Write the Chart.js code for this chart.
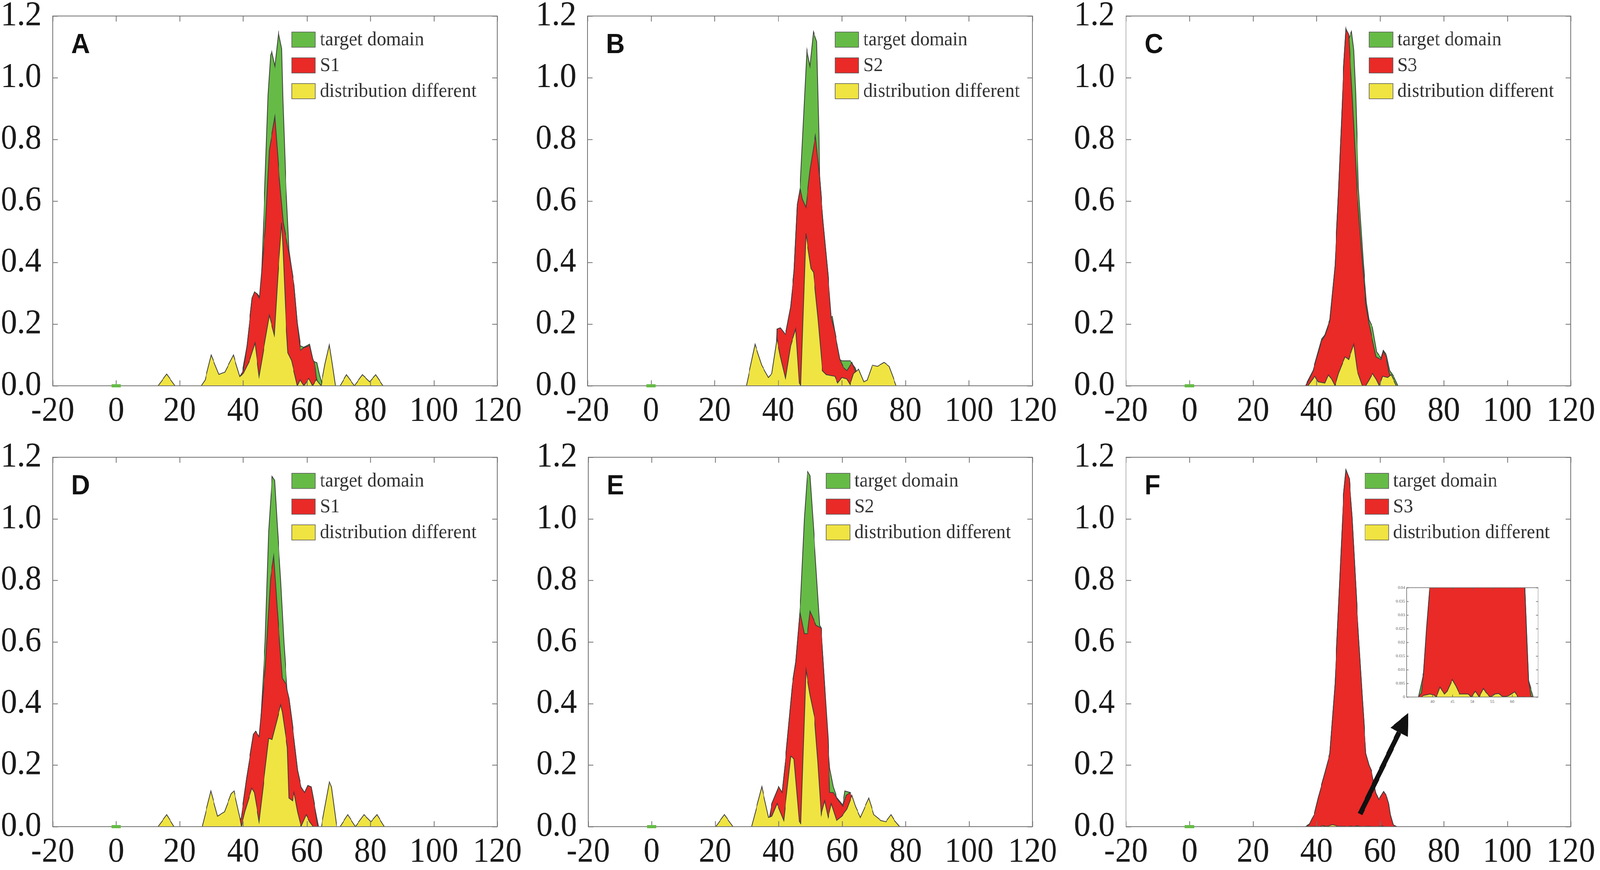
<!DOCTYPE html>
<html>
<head>
<meta charset="utf-8">
<title>Target domain vs source distributions</title>
<script src="https://cdn.jsdelivr.net/npm/chart.js@4.4.1/dist/chart.umd.min.js"></script>
<style>
  html, body { margin: 0; padding: 0; background: #fff; overflow: hidden; }
  #page { position: relative; width: 4317px; height: 2228px; overflow: hidden; background: #fff; transform-origin: 0 0; }
  canvas { position: absolute; }
</style>
</head>
<body>
<div id="page">
  <canvas id="panelA"></canvas>
  <canvas id="panelB"></canvas>
  <canvas id="panelC"></canvas>
  <canvas id="panelD"></canvas>
  <canvas id="panelE"></canvas>
  <canvas id="panelF"></canvas>
  <canvas id="insetF"></canvas>
</div>
<script>
// Series colours
const GREEN = '#66bb46';
const RED = '#e92a27';
const YELLOW = '#f0e442';
const EDGE = '#3c3c3c';

// Small green mark of the target domain sitting on the axis near x = 0
const zeroMark = [[-1.5, 0], [1.5, 0]];

// Panel A (S1)
const aTarget = [[37.5, 0], [39.5, 0.03], [41.2, 0.13], [42.8, 0.285], [44.3, 0.3], [45.5, 0.285], [46.65, 0.6], [47.8, 0.943], [48.6, 1.073], [49.0, 1.085], [49.97, 1.037], [51.1, 1.146], [52.1, 1.094], [52.5, 0.927], [53.3, 0.683], [54.05, 0.52], [54.4, 0.44], [55.2, 0.38], [56.0, 0.326], [57.0, 0.205], [58.0, 0.13], [59.0, 0.125], [60.9, 0.135], [62.0, 0.08], [63.2, 0.075], [64.0, 0.035], [65.0, 0]];
const aS1 = [[38.1, 0], [38.6, 0.025], [40.05, 0.05], [41.2, 0.131], [42.8, 0.285], [43.55, 0.305], [44.3, 0.298], [45.1, 0.285], [47.0, 0.52], [48.2, 0.765], [49.96, 0.874], [51.3, 0.683], [52.6, 0.53], [54.4, 0.43], [55.2, 0.38], [56.0, 0.326], [57.0, 0.204], [58.0, 0.115], [59.0, 0.123], [60.9, 0.131], [61.8, 0.09], [62.6, 0.066], [63.0, 0.03], [63.6, 0]];
const aDiff = [[13.2, 0], [15.9, 0.038], [18.5, 0], [26.8, 0], [28.0, 0.019], [29.9, 0.1], [32.3, 0.037], [34.2, 0.044], [36.9, 0.1], [38.9, 0.03], [40.05, 0.04], [42.0, 0.082], [43.7, 0.139], [45.0, 0.03], [48.2, 0.229], [49.8, 0.164], [50.9, 0.358], [52.1, 0.529], [52.5, 0.45], [53.5, 0.2], [54.05, 0.107], [55.2, 0.082], [57.0, 0], [57.9, 0.02], [59.1, 0], [60.65, 0.024], [61.8, 0], [63.0, 0.02], [64.5, 0], [65.7, 0.07], [67.1, 0.136], [68.05, 0.07], [69.0, 0], [70.5, 0], [72.5, 0.036], [75.0, 0], [77.5, 0.036], [79.8, 0.013], [81.7, 0.036], [84.0, 0]];

// Panel B (S2)
const bTarget = [[38.5, 0], [39.3, 0.1], [39.6, 0.184], [40.7, 0.188], [42.3, 0.166], [43.9, 0.256], [45.0, 0.372], [46.0, 0.588], [46.9, 0.642], [49.0, 1.09], [50.0, 1.037], [51.07, 1.149], [52.1, 1.117], [52.8, 0.82], [53.0, 0.678], [54.1, 0.534], [55.7, 0.354], [56.5, 0.22], [57.0, 0.225], [57.8, 0.175], [59.4, 0.085], [60.0, 0.081], [62.6, 0.081], [64.2, 0.058], [65.3, 0.022], [66.0, 0]];
const bS2 = [[39.3, 0], [39.6, 0.184], [40.7, 0.188], [42.3, 0.166], [43.9, 0.256], [45.0, 0.372], [46.0, 0.588], [46.9, 0.642], [47.6, 0.606], [48.7, 0.579], [50.0, 0.7], [51.7, 0.812], [53.0, 0.678], [54.1, 0.534], [55.7, 0.354], [56.7, 0.22], [57.8, 0.175], [59.4, 0.085], [60.5, 0.06], [61.6, 0.049], [63.2, 0.076], [64.2, 0.049], [65.0, 0]];
const bDiff = [[30.0, 0], [32.7, 0.135], [34.8, 0.067], [36.9, 0.027], [38.0, 0.04], [39.6, 0.153], [40.7, 0.094], [42.3, 0.022], [43.9, 0.13], [45.5, 0.184], [46.6, 0.009], [47.1, 0], [48.7, 0.494], [50.3, 0.381], [51.1, 0.368], [52.5, 0.22], [53.9, 0.049], [55.1, 0.036], [57.8, 0.031], [58.7, 0.009], [60.0, 0.027], [61.6, 0.022], [62.6, 0.004], [63.7, 0.04], [65.3, 0.054], [66.9, 0.013], [68.0, 0.018], [69.6, 0.067], [71.2, 0.063], [73.3, 0.076], [74.9, 0.063], [77.1, 0]];

// Panel C (S3)
const cTarget = [[36.5, 0], [38.9, 0.05], [41.5, 0.15], [42.6, 0.165], [44.2, 0.215], [45.8, 0.39], [46.9, 0.63], [47.8, 0.85], [48.5, 1.03], [49.25, 1.158], [49.9, 1.12], [51.0, 1.15], [51.7, 1.09], [52.3, 0.95], [53.2, 0.64], [54.7, 0.4], [55.7, 0.27], [56.5, 0.215], [57.6, 0.19], [58.9, 0.11], [60.3, 0.09], [61.0, 0.115], [62.0, 0.1], [63.0, 0.05], [64.3, 0.03], [65.6, 0]];
const cS3 = [[36.7, 0], [38.9, 0.049], [41.5, 0.144], [42.6, 0.162], [44.2, 0.211], [45.8, 0.39], [46.9, 0.624], [47.8, 0.848], [48.5, 1.028], [49.25, 1.158], [50.1, 1.14], [51.2, 0.947], [52.8, 0.624], [54.4, 0.4], [55.5, 0.265], [56.5, 0.202], [57.6, 0.148], [58.7, 0.094], [60.3, 0.085], [61.0, 0.112], [61.9, 0.094], [62.7, 0.049], [64.0, 0.004], [65.1, 0]];
const cDiff = [[37.3, 0], [39.4, 0.031], [40.5, 0.013], [42.6, 0.009], [43.7, 0.036], [44.75, 0.022], [45.8, 0], [46.9, 0.04], [47.9, 0.067], [49.0, 0.094], [50.1, 0.085], [51.7, 0.135], [52.8, 0.049], [54.4, 0], [55.5, 0], [56.5, 0.018], [57.6, 0.04], [58.7, 0.022], [59.7, 0], [60.8, 0.031], [62.4, 0.027], [63.5, 0.036], [65.1, 0]];

// Panel D (S1)
const dTarget = [[38.0, 0], [39.4, 0.03], [41.05, 0.156], [43.2, 0.3], [43.9, 0.31], [45.0, 0.292], [45.3, 0.302], [46.9, 0.6], [48.0, 0.96], [49.1, 1.138], [49.9, 1.125], [50.7, 0.98], [51.8, 0.8], [52.8, 0.6], [53.9, 0.43], [54.4, 0.418], [55.5, 0.328], [57.1, 0.183], [58.2, 0.129], [59.3, 0.111], [60.3, 0.134], [61.4, 0.129], [62.5, 0.066], [63.7, 0]];
const dS1 = [[38.4, 0], [39.4, 0.03], [41.05, 0.156], [43.2, 0.3], [43.9, 0.31], [45.0, 0.292], [46.9, 0.51], [48.6, 0.807], [49.6, 0.879], [50.7, 0.707], [52.3, 0.482], [53.4, 0.464], [54.4, 0.418], [55.5, 0.328], [57.1, 0.183], [58.2, 0.129], [59.3, 0.111], [60.3, 0.134], [61.4, 0.129], [62.5, 0.066], [63.5, 0]];
const dDiff = [[13.2, 0], [15.9, 0.039], [18.2, 0], [27.1, 0], [29.8, 0.116], [31.9, 0.034], [34.1, 0.048], [36.2, 0.107], [37.1, 0.116], [38.9, 0.03], [39.4, 0], [40.5, 0.048], [42.7, 0.125], [43.5, 0.111], [45.0, 0.016], [48.0, 0.287], [49.1, 0.283], [51.8, 0.396], [52.3, 0.373], [53.9, 0.256], [54.4, 0.093], [55.5, 0.084], [56.0, 0.111], [57.1, 0.048], [58.2, 0], [59.8, 0.039], [60.9, 0.016], [62.0, 0], [64.6, 0], [67.1, 0.147], [67.8, 0.129], [69.4, 0], [70.5, 0], [72.9, 0.039], [75.3, 0], [78.0, 0.039], [80.2, 0.016], [82.1, 0.039], [84.4, 0]];

// Panel E (S2)
const eTarget = [[36.5, 0], [37.9, 0.075], [40.0, 0.13], [41.1, 0.111], [42.2, 0.22], [44.3, 0.46], [45.4, 0.535], [46.7, 0.7], [47.0, 0.75], [48.1, 1.0], [49.1, 1.155], [49.9, 1.14], [51.3, 0.92], [52.9, 0.654], [53.4, 0.645], [54.5, 0.46], [55.3, 0.3], [56.1, 0.19], [57.2, 0.13], [58.3, 0.095], [60.2, 0.07], [60.9, 0.116], [62.5, 0.111], [63.6, 0.075], [64.7, 0]];
const eS2 = [[36.8, 0], [37.9, 0.075], [40.0, 0.13], [41.1, 0.111], [42.2, 0.22], [44.3, 0.46], [45.4, 0.535], [46.7, 0.7], [48.1, 0.627], [49.1, 0.627], [49.9, 0.7], [51.8, 0.654], [53.4, 0.645], [54.5, 0.46], [55.6, 0.283], [56.1, 0.111], [57.2, 0.111], [58.3, 0.093], [60.2, 0.066], [61.3, 0.102], [62.5, 0.111], [63.6, 0.075], [64.7, 0]];
const eDiff = [[20.2, 0], [22.9, 0.039], [25.6, 0], [31.5, 0], [34.7, 0.13], [36.8, 0.03], [37.9, 0.034], [39.5, 0.075], [41.6, 0.02], [43.8, 0.229], [44.85, 0.22], [46.5, 0.016], [47.0, 0.01], [48.6, 0.509], [49.9, 0.427], [51.3, 0.355], [52.35, 0.21], [53.4, 0.039], [54.5, 0.084], [55.6, 0.03], [56.6, 0.075], [58.25, 0.02], [59.9, 0.034], [61.5, 0.057], [63.1, 0.102], [64.2, 0.066], [65.75, 0.03], [68.4, 0.093], [70.0, 0.039], [72.2, 0.02], [73.8, 0.016], [75.4, 0.039], [76.5, 0.02], [78.1, 0]];

// Panel F (S3) - also shown magnified in the inset
const fTarget = [[36.5, 0], [37.8, 0.009], [39.3, 0.04], [40.5, 0.093], [42.6, 0.174], [44.2, 0.238], [45.8, 0.464], [47.4, 0.825], [48.5, 1.078], [49.25, 1.159], [50.3, 1.13], [51.2, 1.006], [52.8, 0.69], [54.4, 0.418], [55.5, 0.238], [56.5, 0.2], [57.2, 0.183], [58.6, 0.11], [59.6, 0.088], [61.1, 0.114], [62.0, 0.1], [62.7, 0.075], [63.2, 0.04], [64.1, 0.006], [65.3, 0]];
const fS3 = [[36.5, 0], [37.2, 0.0015], [37.8, 0.009], [38.5, 0.025], [39.3, 0.04], [40.5, 0.093], [42.6, 0.174], [44.2, 0.238], [45.8, 0.464], [47.4, 0.825], [48.5, 1.078], [49.25, 1.159], [50.3, 1.13], [51.2, 1.006], [52.8, 0.69], [54.4, 0.418], [55.5, 0.238], [56.5, 0.2], [57.2, 0.183], [58.6, 0.11], [59.6, 0.088], [61.1, 0.114], [62.0, 0.1], [62.7, 0.075], [63.2, 0.04], [63.7, 0.02], [64.1, 0.006], [64.7, 0.0003], [65.3, 0]];
const fDiff = [[37.3, 0], [37.6, 0.0005], [38.2, 0.0007], [39.4, 0.0011], [40.4, 0.0007], [41.0, 0], [41.9, 0.0036], [43.0, 0.001], [43.7, 0.0021], [45.0, 0.0064], [45.9, 0.004], [46.8, 0.0011], [49.0, 0.0011], [49.7, 0], [50.8, 0.0021], [51.7, 0], [52.8, 0.0031], [53.4, 0.0017], [54.5, 0], [55.7, 0.0011], [56.6, 0.0013], [57.5, 0.0002], [58.5, 0.0002], [59.4, 0.0007], [60.6, 0.0019], [61.5, 0], [63.5, 0]];

// Axis ranges
const X_MIN = -20, X_MAX = 120, X_STEP = 20;
const Y_MIN = 0, Y_MAX = 1.2, Y_STEP = 0.2;

// Panel placement on the page (canvas box + plot box, in page pixels)
const panels = [
  { id: 'panelA', letter: 'A', source: 'S1', target: aTarget, src: aS1, diff: aDiff, left: 0, top: 0, width: 1440, height: 1110, plotLeft: 142, plotRight: 1342, plotTop: 41, plotBottom: 988, legendX: 645 },
  { id: 'panelB', letter: 'B', source: 'S2', target: bTarget, src: bS2, diff: bDiff, left: 1440, top: 0, width: 1440, height: 1110, plotLeft: 1585, plotRight: 2786, plotTop: 41, plotBottom: 988, legendX: 668 },
  { id: 'panelC', letter: 'C', source: 'S3', target: cTarget, src: cS3, diff: cDiff, left: 2880, top: 0, width: 1437, height: 1110, plotLeft: 3038, plotRight: 4238, plotTop: 41, plotBottom: 988, legendX: 656 },
  { id: 'panelD', letter: 'D', source: 'S1', target: dTarget, src: dS1, diff: dDiff, left: 0, top: 1110, width: 1440, height: 1118, plotLeft: 142, plotRight: 1342, plotTop: 1171, plotBottom: 2117, legendX: 645 },
  { id: 'panelE', letter: 'E', source: 'S2', target: eTarget, src: eS2, diff: eDiff, left: 1440, top: 1110, width: 1440, height: 1118, plotLeft: 1587, plotRight: 2786, plotTop: 1171, plotBottom: 2117, legendX: 642 },
  { id: 'panelF', letter: 'F', source: 'S3', target: fTarget, src: fS3, diff: fDiff, left: 2880, top: 1110, width: 1437, height: 1118, plotLeft: 3038, plotRight: 4238, plotTop: 1171, plotBottom: 2117, legendX: 645,
    arrow: { from: [53.7, 0.041], to: [68.9, 0.37] } }
];

// Stretch the 4317 x 2228 page over whatever viewport we actually get
function fitPage() {
    const page = document.getElementById('page');
    const sx = window.innerWidth / 4317;
    const sy = window.innerHeight / 2228;
    page.style.transform = 'scale(' + sx + ', ' + sy + ')';
}
fitPage();
window.addEventListener('resize', fitPage);

Chart.defaults.font.family = '"Liberation Serif", "Times New Roman", serif';
Chart.defaults.color = '#1a1a1a';

function area(data, color, order) {
    return {
        data: data,
        backgroundColor: color,
        borderColor: EDGE,
        borderWidth: 2,
        fill: 'origin',
        pointRadius: 0,
        pointHoverRadius: 0,
        tension: 0,
        order: order
    };
}

// Box frame with inward ticks on all four sides
const framePlugin = {
    id: 'frame',
    afterDatasetsDraw(chart, args, opts) {
        const { ctx, chartArea: a, scales } = chart;
        const len = opts.tickLength || 14;
        ctx.save();
        ctx.strokeStyle = opts.color || '#707070';
        ctx.lineWidth = opts.lineWidth || 2;
        ctx.beginPath();
        scales.x.ticks.forEach(t => {
            const px = Math.round(scales.x.getPixelForValue(t.value)) + 0.5;
            ctx.moveTo(px, a.bottom); ctx.lineTo(px, a.bottom - len);
            ctx.moveTo(px, a.top); ctx.lineTo(px, a.top + len);
        });
        scales.y.ticks.forEach(t => {
            const py = Math.round(scales.y.getPixelForValue(t.value)) + 0.5;
            ctx.moveTo(a.left, py); ctx.lineTo(a.left + len, py);
            ctx.moveTo(a.right, py); ctx.lineTo(a.right - len, py);
        });
        ctx.stroke();
        ctx.strokeRect(a.left, a.top, a.right - a.left, a.bottom - a.top);

        // the green target-domain mark near zero sits on top of the axis line
        if (opts.mark) {
            ctx.strokeStyle = GREEN;
            ctx.lineWidth = 8;
            ctx.beginPath();
            ctx.moveTo(scales.x.getPixelForValue(opts.mark[0][0]), scales.y.getPixelForValue(opts.mark[0][1]));
            ctx.lineTo(scales.x.getPixelForValue(opts.mark[1][0]), scales.y.getPixelForValue(opts.mark[1][1]));
            ctx.stroke();
        }
        ctx.restore();
    }
};

// Panel letter, legend and the pointer arrow of panel F
const decoPlugin = {
    id: 'deco',
    afterDraw(chart, args, opts) {
        if (!opts.letter) return;
        const { ctx, chartArea: a, scales } = chart;
        ctx.save();

        ctx.fillStyle = '#111';
        ctx.font = 'bold 70px "Liberation Sans", Arial, sans-serif';
        ctx.textAlign = 'left';
        ctx.textBaseline = 'alphabetic';
        ctx.fillText(opts.letter, a.left + 50, a.top + 95);

        const items = [['target domain', GREEN], [opts.source, RED], ['distribution different', YELLOW]];
        const sx = a.left + opts.legendX;
        ctx.font = '51px "Liberation Serif", "Times New Roman", serif';
        ctx.textBaseline = 'middle';
        items.forEach((it, i) => {
            const top = a.top + 41 + i * 66;
            ctx.fillStyle = it[1];
            ctx.fillRect(sx, top, 64, 39);
            ctx.strokeStyle = '#555';
            ctx.lineWidth = 1.5;
            ctx.strokeRect(sx, top, 64, 39);
            ctx.fillStyle = '#333';
            ctx.fillText(it[0], sx + 76, top + 21);
        });

        if (opts.arrow) {
            const x0 = scales.x.getPixelForValue(opts.arrow.from[0]);
            const y0 = scales.y.getPixelForValue(opts.arrow.from[1]);
            const x1 = scales.x.getPixelForValue(opts.arrow.to[0]);
            const y1 = scales.y.getPixelForValue(opts.arrow.to[1]);
            const ang = Math.atan2(y1 - y0, x1 - x0);
            const headLen = 56, headW = 26;
            const bx = x1 - headLen * Math.cos(ang);
            const by = y1 - headLen * Math.sin(ang);
            ctx.strokeStyle = '#111';
            ctx.fillStyle = '#111';
            ctx.lineWidth = 13;
            ctx.beginPath();
            ctx.moveTo(x0, y0);
            ctx.lineTo(bx, by);
            ctx.stroke();
            ctx.beginPath();
            ctx.moveTo(x1, y1);
            ctx.lineTo(bx + headW * Math.sin(ang), by - headW * Math.cos(ang));
            ctx.lineTo(bx - headW * Math.sin(ang), by + headW * Math.cos(ang));
            ctx.closePath();
            ctx.fill();
        }
        ctx.restore();
    }
};

function placeCanvas(id, left, top, width, height) {
    const canvas = document.getElementById(id);
    canvas.width = width;
    canvas.height = height;
    canvas.style.left = left + 'px';
    canvas.style.top = top + 'px';
    canvas.style.width = width + 'px';
    canvas.style.height = height + 'px';
    return canvas.getContext('2d');
}

function buildPanel(p) {
    const ctx = placeCanvas(p.id, p.left, p.top, p.width, p.height);
    const yAxisWidth = p.plotLeft - p.left;
    const xAxisHeight = p.top + p.height - p.plotBottom;

    return new Chart(ctx, {
        type: 'line',
        data: {
            datasets: [
                area(p.target, GREEN, 3),
                area(p.src, RED, 2),
                area(p.diff, YELLOW, 1)
            ]
        },
        options: {
            responsive: false,
            animation: false,
            devicePixelRatio: 1,
            events: [],
            layout: {
                autoPadding: false,
                padding: { left: 0, top: p.plotTop - p.top, right: p.left + p.width - p.plotRight, bottom: 0 }
            },
            plugins: {
                legend: { display: false },
                tooltip: { enabled: false },
                frame: { tickLength: 14, color: '#707070', lineWidth: 2, mark: zeroMark },
                deco: { letter: p.letter, source: p.source, legendX: p.legendX, arrow: p.arrow }
            },
            scales: {
                x: {
                    type: 'linear',
                    min: X_MIN,
                    max: X_MAX,
                    grid: { display: false, drawTicks: false },
                    border: { display: false },
                    ticks: {
                        stepSize: X_STEP,
                        autoSkip: false,
                        maxRotation: 0,
                        padding: 22,
                        font: { size: 88, lineHeight: 1 },
                        callback: v => String(v)
                    },
                    afterFit: s => { s.height = xAxisHeight; s.paddingLeft = 0; s.paddingRight = 0; }
                },
                y: {
                    type: 'linear',
                    min: Y_MIN,
                    max: Y_MAX,
                    grid: { display: false, drawTicks: false },
                    border: { display: false },
                    ticks: {
                        stepSize: Y_STEP,
                        padding: 30,
                        font: { size: 88, lineHeight: 1 },
                        callback: v => v.toFixed(1)
                    },
                    afterFit: s => { s.width = yAxisWidth; s.paddingTop = 0; s.paddingBottom = 0; }
                }
            }
        },
        plugins: [framePlugin, decoPlugin]
    });
}

panels.forEach(buildPanel);

// Magnified inset of panel F (0 - 0.04 band)
(function buildInset() {
    const left = 3740, top = 1495, width = 420, height = 315;
    const plotLeft = 3795, plotRight = 4150, plotTop = 1505, plotBottom = 1785;
    const ctx = placeCanvas('insetF', left, top, width, height);
    new Chart(ctx, {
        type: 'line',
        data: {
            datasets: [area(fTarget, GREEN, 3), area(fS3, RED, 2), area(fDiff, YELLOW, 1)]
        },
        options: {
            responsive: false,
            animation: false,
            devicePixelRatio: 1,
            events: [],
            layout: {
                autoPadding: false,
                padding: { left: 0, top: plotTop - top, right: left + width - plotRight, bottom: 0 }
            },
            plugins: {
                legend: { display: false },
                tooltip: { enabled: false },
                frame: { tickLength: 6, color: '#666', lineWidth: 1.5 }
            },
            scales: {
                x: {
                    type: 'linear',
                    min: 33.5,
                    max: 66.5,
                    grid: { display: false, drawTicks: false },
                    border: { display: false },
                    ticks: { stepSize: 5, autoSkip: false, maxRotation: 0, padding: 6, color: '#555', font: { size: 11 } },
                    afterBuildTicks: s => { s.ticks = s.ticks.filter(t => Math.abs(t.value / 5 - Math.round(t.value / 5)) < 1e-6); },
                    afterFit: s => { s.height = top + height - plotBottom; s.paddingLeft = 0; s.paddingRight = 0; }
                },
                y: {
                    type: 'linear',
                    min: 0,
                    max: 0.04,
                    grid: { display: false, drawTicks: false },
                    border: { display: false },
                    ticks: { stepSize: 0.005, padding: 4, color: '#555', font: { size: 11 }, callback: v => String(+v.toFixed(3)) },
                    afterFit: s => { s.width = plotLeft - left; s.paddingTop = 0; s.paddingBottom = 0; }
                }
            }
        },
        plugins: [framePlugin]
    });
})();
</script>
</body>
</html>
